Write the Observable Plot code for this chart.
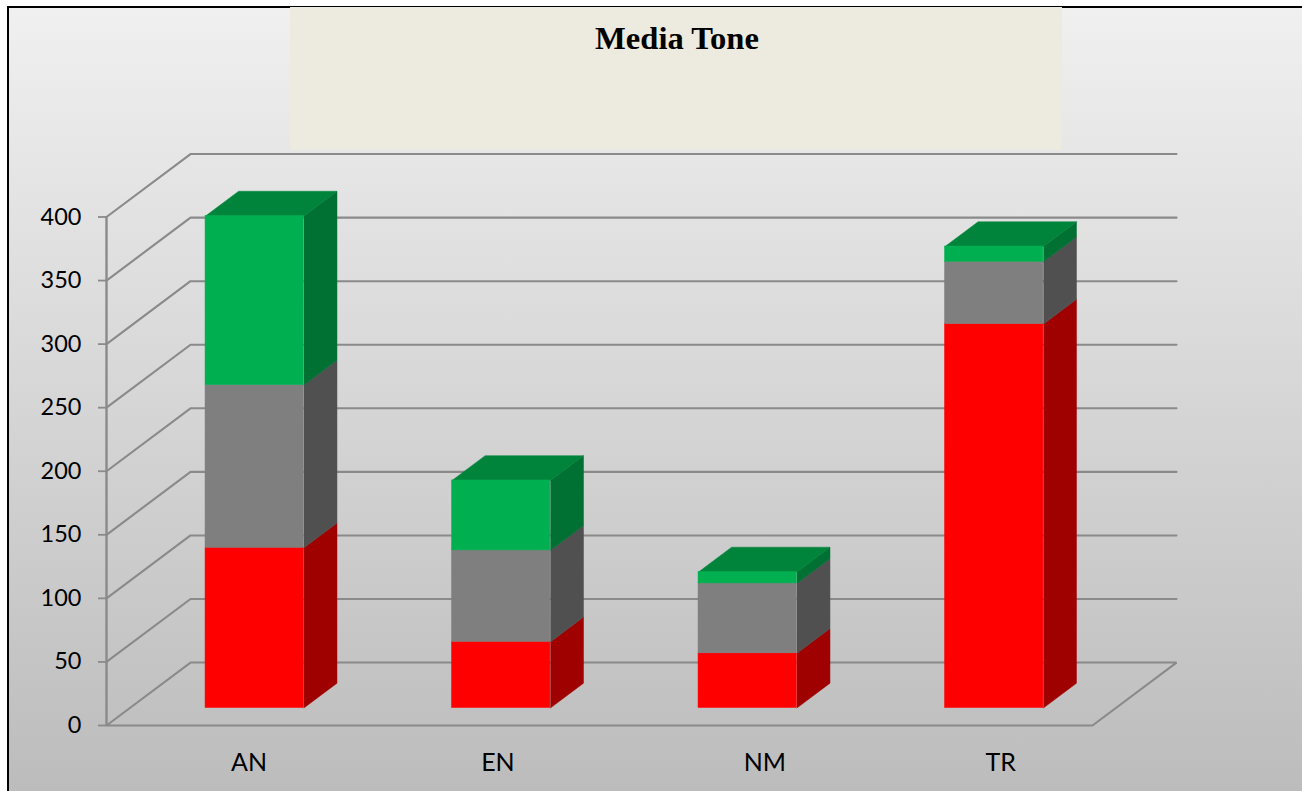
<!DOCTYPE html>
<html>
<head>
<meta charset="utf-8">
<title>Media Tone</title>
<style>
  html, body { margin: 0; padding: 0; background: #fff; overflow: hidden; }
  #page { position: relative; width: 1302px; height: 791px; overflow: hidden; }
  #panel {
    position: absolute; left: 7px; top: 6px; right: 0; bottom: 0;
    border-left: 2px solid #000; border-top: 2px solid #000;
    background: linear-gradient(to bottom, #f0f0f0, #bcbcbc);
  }
  #chart { position: absolute; left: 0; top: 0; }
  #title {
    position: absolute; left: 290px; top: 7px; width: 772px; height: 143px;
    background: #edeadf; color: #000; text-align: center;
    font: bold 32.6px/62px "Liberation Serif", serif;
    padding-left: 2px; box-sizing: border-box;
  }
</style>
</head>
<body>
<div id="page">
  <div id="panel"></div>
  <div id="chart"></div>
  <div id="title">Media Tone</div>
</div>
<script src="https://cdn.jsdelivr.net/npm/d3@7"></script>
<script src="https://cdn.jsdelivr.net/npm/@observablehq/plot@0.6"></script>
<script>
// Article counts per outlet, split by tone
const categories = ["AN", "EN", "NM", "TR"];
const negative = [126, 52, 43, 302];
const neutral = [128, 72, 55, 49];
const positive = [133, 55, 9, 12];
const yTicks = [0, 50, 100, 150, 200, 250, 300, 350, 400];

// Oblique projection: one unit of depth moves a point right and up
const depthX = 0.3408;
const depthY = 49.5;
const px = (band, t) => band + t * depthX;
const py = (value, t) => value + t * depthY;

// Where the columns sit on the floor of the box
const barFront = 0.278;
const barBack = 0.672;
const barStart = 0.307;
const barWidth = 0.399;

// Category labels sit slightly off the column centres
const labelShift = [0.078, 0.088, 0.171, 0.128];

const tones = [
  {values: negative, front: "#ff0000", side: "#9f0000"},
  {values: neutral, front: "#7f7f7f", side: "#505050"},
  {values: positive, front: "#00b050", side: "#007033"}
];
const topColor = "#00843b";

// Stack the tones into segments
const segments = [];
categories.forEach((name, i) => {
  let base = 0;
  tones.forEach((tone, k) => {
    const value = tone.values[i];
    segments.push({name, i, k, lo: base, hi: base + value, front: tone.front, side: tone.side});
    base += value;
  });
});

// Side faces and the cap of each column, as closed outlines
const faces = [];
const pushFace = (key, fill, corners) => {
  for (const [band, value, t] of corners) {
    faces.push({key, fill, x: px(band, t), y: py(value, t)});
  }
};
for (const s of segments) {
  const right = s.i + barStart + barWidth;
  pushFace(`side-${s.i}-${s.k}`, s.side, [
    [right, s.lo, barFront], [right, s.lo, barBack],
    [right, s.hi, barBack], [right, s.hi, barFront]
  ]);
}
categories.forEach((name, i) => {
  const left = i + barStart;
  const right = left + barWidth;
  const total = negative[i] + neutral[i] + positive[i];
  pushFace(`top-${i}`, topColor, [
    [left, total, barFront], [left, total, barBack],
    [right, total, barBack], [right, total, barFront]
  ]);
});

// Side-wall, back-wall and floor lines of the box
const wall = [];
for (const v of yTicks) {
  const route = v === 0
    ? [[0, v, 0], [0, v, 1], [4, v, 1], [4, v, 0], [0, v, 0]]
    : [[0, v, 0], [0, v, 1], [4, v, 1]];
  for (const [band, value, t] of route) {
    wall.push({v, x: px(band, t), y: py(value, t)});
  }
}

const gridColor = "#8a8a8a";

const chart = Plot.plot({
  width: 1302,
  height: 791,
  marginLeft: 106,
  marginRight: 0,
  marginTop: 0,
  marginBottom: 66,
  style: {background: "transparent", fontFamily: "Lato, sans-serif", color: "#000"},
  x: {domain: [0, 4], range: [106, 1092], axis: null},
  y: {domain: [0, 400], range: [725, 216.5], axis: null},
  color: {type: "identity"},
  marks: [
    Plot.line(wall, {x: "x", y: "y", z: "v", stroke: gridColor, strokeWidth: 2.1, strokeLinejoin: "miter"}),
    Plot.ruleX([0], {y1: 0, y2: 400, stroke: gridColor, strokeWidth: 2.4}),
    Plot.axisY({
      ticks: yTicks,
      tickSize: 8,
      tickPadding: 17,
      stroke: gridColor,
      strokeWidth: 1.8,
      fill: "#000",
      fontSize: 23.5,
      label: null
    }),
    Plot.line(faces, {x: "x", y: "y", z: "key", fill: "fill", stroke: "fill", strokeWidth: 0.5}),
    Plot.rect(segments, {
      x1: d => px(d.i + barStart, barFront),
      x2: d => px(d.i + barStart + barWidth, barFront),
      y1: d => py(d.lo, barFront),
      y2: d => py(d.hi, barFront),
      fill: "front",
      stroke: "front",
      strokeWidth: 0.5
    }),
    Plot.text(categories, {
      x: (d, i) => i + 0.5 + labelShift[i],
      text: d => d,
      frameAnchor: "bottom",
      lineAnchor: "middle",
      dy: 37,
      fontSize: 25,
      fill: "#000"
    })
  ]
});
document.getElementById("chart").appendChild(chart);
</script>
</body>
</html>
